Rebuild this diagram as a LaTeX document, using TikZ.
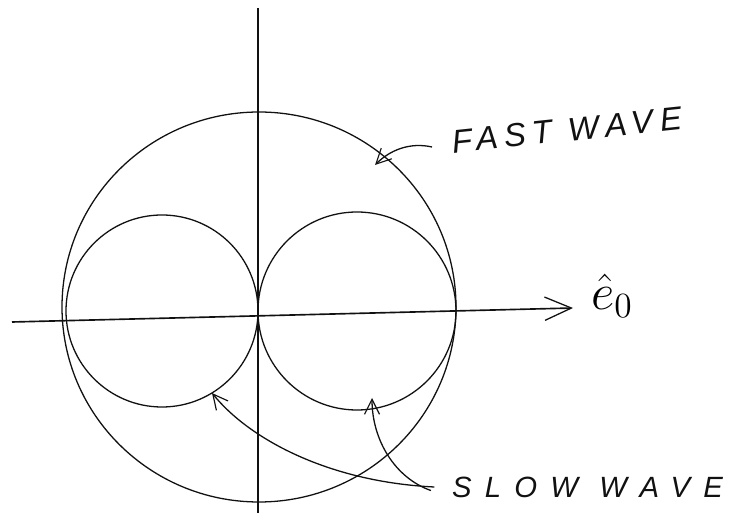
\documentclass[tikz,border=0pt]{standalone}
\usepackage{fontspec}
\usepackage{graphicx}
\usepackage{tikz}
\usetikzlibrary{arrows.meta,positioning}
\newfontfamily\handfont[LetterSpace=20]{Liberation Sans}
\definecolor{inkblack}{HTML}{111111}
\tikzset{
  axisline/.style={line width=1.4pt, draw=inkblack},
  wavecurve/.style={line width=1.1pt, draw=inkblack},
  axisarrow/.style={-{Straight Barb[length=8mm, width=7mm, line width=1.1pt]}, axisline},
  callout/.style={-{Straight Barb[length=4.5mm, width=4.5mm, line width=1pt]}, line width=1.1pt, draw=inkblack},
  handlabel/.style={font=\handfont\itshape\fontsize{28}{30}\selectfont, text=inkblack, inner sep=0pt}
}
\begin{document}
\begin{tikzpicture}[x=0.03cm, y=-0.03cm]
  \useasboundingbox (0,0) rectangle (742,513);
  % axes
  \coordinate (xleft) at (12,322);
  \coordinate (xright) at (573,308);
  \coordinate (ytop) at (258,8);
  \coordinate (ybottom) at (258,513);
  \draw[axisarrow] (xleft) -- (xright);
  \draw[axisline] (ytop) -- (ybottom);
  \node[font=\huge, inner sep=0pt] (ehat) at (612,296) {\scalebox{2.1}{$\hat{e}_{0}$}};
  % fast wave and slow wave
  \draw[wavecurve] (259,307) ellipse [x radius=197, y radius=195];
  \draw[wavecurve] (162,311) circle [radius=96];
  \draw[wavecurve] (357,311) circle [radius=99];
  % labels
  \coordinate (fastpt) at (375,165);
  \coordinate (slowleftpt) at (212,393);
  \coordinate (slowrightpt) at (372,398);
  \node[handlabel, rotate=6, anchor=west] (fastlbl) at (452,142) {FAST WAVE};
  \node[handlabel, anchor=west, font=\handfont\itshape\fontsize{25}{27}\selectfont\addfontfeature{LetterSpace=45}] (slowlbl) at (452,487) {SLOW WAVE};
  \draw[callout] (fastlbl.west) ++(-20,5) coordinate (fasttail) .. controls (410,142) and (390,150) .. (fastpt);
  \draw[callout] ([xshift=-15] slowlbl.west) .. controls (330,482) and (250,440) .. (slowleftpt);
  \draw[callout] ([xshift=-18, yshift=-3] slowlbl.west) .. controls (395,478) and (372,440) .. (slowrightpt);
\end{tikzpicture}
\end{document}
